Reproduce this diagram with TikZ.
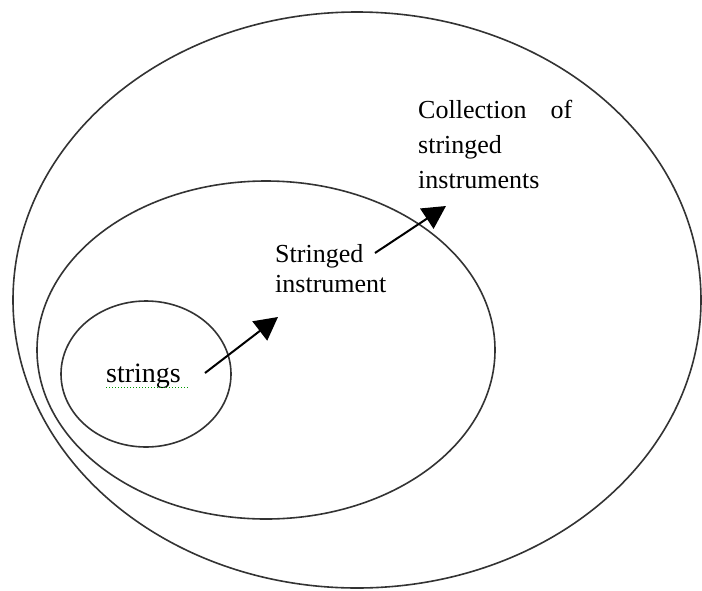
\documentclass[tikz,border=0pt]{standalone}
\usepackage{fontspec}
\setmainfont{Liberation Serif}
\usetikzlibrary{arrows.meta}
\begin{document}
\begin{tikzpicture}[x={(1pt,0)}, y={(0,-1pt)},
  set/.style={draw=black!80, line width=1.6pt},
  label/.style={inner sep=0pt, anchor=base west, align=left},
  link/.style={line width=2pt, -{Triangle[length=23pt, width=24pt]}},
  spell/.style={draw=green!60!black, line width=1pt, dotted}]
  \useasboundingbox (0,0) rectangle (702,590);

  % nested sets
  \draw[set] (357,300) ellipse [x radius=344, y radius=288];
  \draw[set] (266,350) ellipse [x radius=229, y radius=169];
  \draw[set] (146,374) ellipse [x radius=85, y radius=73];

  % labels (base anchor sits on the last line)
  \node[label, font=\fontsize{28}{34}\selectfont] (strings) at (106,382) {strings};
  \node[label, font=\fontsize{26}{30}\selectfont] (instr) at (275,292) {Stringed\\instrument};
  \node[label, font=\fontsize{26}{35}\selectfont] (coll) at (418,188)
    {\makebox[154pt][s]{Collection\hfill of}\\stringed\\instruments};

  % spelling mark under "strings"
  \coordinate (sp1) at (106,387);
  \coordinate (sp2) at (188,387);
  \draw[spell] (sp1) -- (sp2);

  % arrows between levels
  \coordinate (a1s) at (205,373);
  \coordinate (a1e) at (278,317);
  \coordinate (a2s) at (375,253);
  \coordinate (a2e) at (446,206);
  \draw[link] (a1s) -- (a1e);
  \draw[link] (a2s) -- (a2e);
\end{tikzpicture}
\end{document}
